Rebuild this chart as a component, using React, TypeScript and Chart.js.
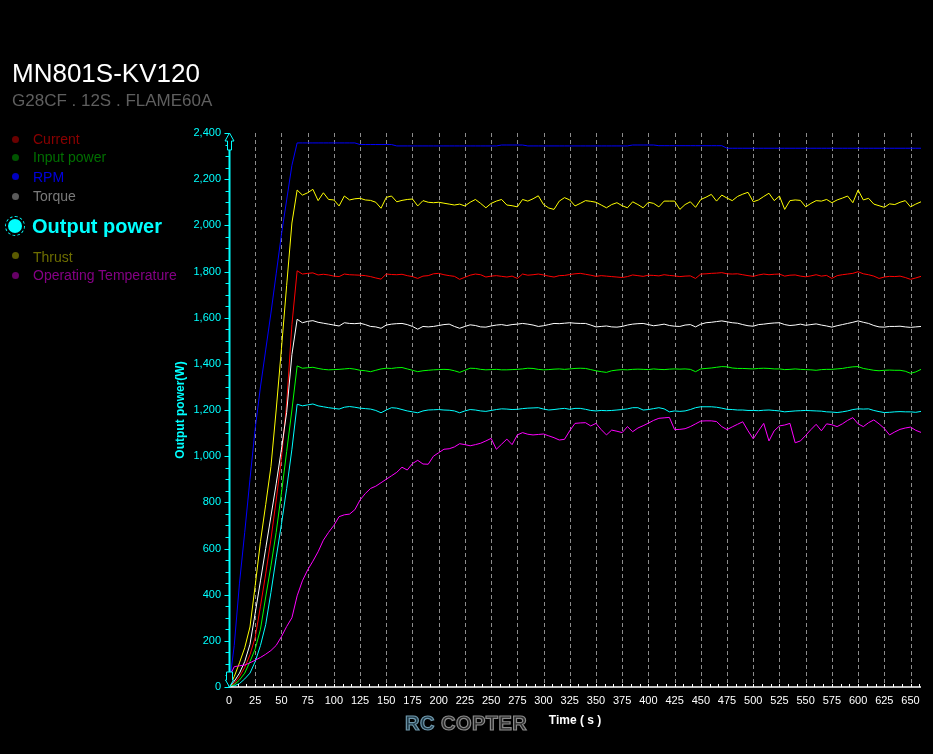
import React, { useEffect, useRef } from "react";
import { Chart, registerables } from "chart.js";

Chart.register(...registerables);

const TITLE = "MN801S-KV120";
const SUBTITLE = "G28CF . 12S . FLAME60A";
const X_TITLE = "Time ( s )";
const Y_TITLE = "Output power(W)";
const WATERMARK_A = "RC";
const WATERMARK_B = "COPTER";

const LEGEND_LABELS = [
  "Current",
  "Input power",
  "RPM",
  "Torque",
  "Output power",
  "Thrust",
  "Operating Temperature",
];

const TIMES = [
  0, 5, 10, 15, 20, 25, 30, 35, 40, 45, 50, 55, 60,
  65, 70, 75, 80, 85, 90, 95, 100, 105, 110,
  115, 120, 125, 130, 135, 140, 145, 150, 155, 160,
  165, 170, 175, 180, 185, 190, 195, 200, 205, 210,
  215, 220, 225, 230, 235, 240, 245, 250, 255, 260,
  265, 270, 275, 280, 285, 290, 295, 300, 305, 310,
  315, 320, 325, 330, 335, 340, 345, 350, 355, 360,
  365, 370, 375, 380, 385, 390, 395, 400, 405, 410,
  415, 420, 425, 430, 435, 440, 445, 450, 455, 460,
  465, 470, 475, 480, 485, 490, 495, 500, 505, 510,
  515, 520, 525, 530, 535, 540, 545, 550, 555, 560,
  565, 570, 575, 580, 585, 590, 595, 600, 605, 610,
  615, 620, 625, 630, 635, 640, 645, 650, 655, 660,
];

const X_TICKS = [0, 25, 50, 75, 100, 125, 150, 175, 200, 225, 250, 275, 300, 325, 350, 375, 400, 425, 450, 475, 500, 525, 550, 575, 600, 625, 650];
const Y_TICKS = [0, 200, 400, 600, 800, 1000, 1200, 1400, 1600, 1800, 2000, 2200, 2400];

const RPM = [
  0, 180, 450, 670, 900, 1120, 1300, 1460, 1620, 1790, 1960, 2110, 2260,
  2357, 2357, 2357, 2357, 2357, 2357, 2357, 2357, 2357, 2357,
  2357, 2357, 2350, 2350, 2350, 2350, 2350, 2350, 2350, 2344,
  2344, 2344, 2344, 2344, 2344, 2344, 2344, 2344, 2344, 2344,
  2344, 2344, 2344, 2344, 2344, 2344, 2344, 2344, 2344, 2348,
  2348, 2348, 2348, 2348, 2344, 2344, 2344, 2344, 2344, 2344,
  2344, 2344, 2344, 2344, 2344, 2344, 2344, 2344, 2344, 2344,
  2344, 2344, 2344, 2344, 2348, 2348, 2348, 2348, 2348, 2345,
  2345, 2345, 2345, 2345, 2345, 2345, 2345, 2345, 2345, 2345,
  2345, 2345, 2334, 2334, 2334, 2334, 2334, 2334, 2334, 2334,
  2334, 2334, 2334, 2334, 2334, 2334, 2334, 2334, 2334, 2334,
  2334, 2334, 2334, 2334, 2334, 2334, 2334, 2334, 2334, 2334,
  2334, 2334, 2334, 2334, 2334, 2334, 2334, 2334, 2334, 2334,
];

const THRUST = [
  0, 45, 105, 170, 260, 440, 630, 790, 955, 1200, 1465, 1740, 2010,
  2153, 2131, 2141, 2156, 2107, 2141, 2112, 2110, 2084, 2127,
  2110, 2115, 2117, 2110, 2108, 2100, 2074, 2121, 2127, 2102,
  2108, 2112, 2114, 2084, 2107, 2100, 2098, 2100, 2096, 2092,
  2088, 2092, 2084, 2100, 2112, 2095, 2076, 2095, 2105, 2112,
  2088, 2085, 2080, 2112, 2105, 2115, 2128, 2090, 2075, 2069,
  2105, 2120, 2110, 2084, 2095, 2107, 2104, 2100, 2088, 2076,
  2090, 2098, 2085, 2076, 2102, 2090, 2076, 2100, 2095, 2080,
  2105, 2105, 2105, 2069, 2090, 2102, 2078, 2112, 2122, 2134,
  2105, 2131, 2118, 2107, 2125, 2135, 2143, 2102, 2110, 2125,
  2139, 2107, 2127, 2069, 2107, 2110, 2108, 2080, 2095, 2107,
  2105, 2112, 2098, 2110, 2118, 2127, 2098, 2153, 2110, 2117,
  2092, 2085, 2078, 2093, 2090, 2100, 2107, 2080, 2092, 2102,
];

const CURRENT = [
  0, 15, 45, 85, 140, 215, 350, 490, 640, 810, 990, 1230, 1570,
  1803, 1789, 1792, 1794, 1785, 1788, 1785, 1780, 1778, 1789,
  1786, 1785, 1784, 1782, 1778, 1772, 1767, 1789, 1787, 1786,
  1788, 1782, 1778, 1770, 1780, 1782, 1790, 1792, 1786, 1782,
  1779, 1766, 1775, 1784, 1789, 1786, 1776, 1780, 1782, 1779,
  1776, 1780, 1770, 1789, 1784, 1786, 1789, 1785, 1780, 1776,
  1782, 1783, 1787, 1790, 1792, 1788, 1784, 1779, 1782, 1780,
  1778, 1776, 1774, 1778, 1785, 1782, 1779, 1784, 1783, 1781,
  1786, 1783, 1781, 1778, 1780, 1781, 1770, 1789, 1790, 1792,
  1793, 1795, 1790, 1789, 1790, 1786, 1782, 1779, 1785, 1789,
  1786, 1788, 1789, 1780, 1784, 1785, 1780, 1777, 1781, 1786,
  1780, 1783, 1770, 1782, 1786, 1789, 1792, 1799, 1790, 1786,
  1780, 1770, 1776, 1779, 1778, 1780, 1774, 1766, 1772, 1779,
];

const TORQUE = [
  0, 25, 60, 110, 185, 320, 460, 600, 740, 880, 1030, 1190, 1440,
  1593, 1578, 1584, 1587, 1580, 1576, 1572, 1568, 1564, 1578,
  1575, 1574, 1576, 1570, 1562, 1560, 1554, 1568, 1572, 1574,
  1575, 1570, 1562, 1550, 1562, 1560, 1562, 1566, 1570, 1572,
  1562, 1554, 1562, 1569, 1566, 1560, 1559, 1564, 1568, 1570,
  1566, 1570, 1572, 1575, 1572, 1568, 1562, 1565, 1570, 1575,
  1574, 1576, 1578, 1576, 1575, 1575, 1568, 1560, 1562, 1564,
  1560, 1559, 1562, 1568, 1572, 1574, 1575, 1570, 1565, 1568,
  1572, 1566, 1563, 1562, 1568, 1570, 1560, 1572, 1578, 1580,
  1583, 1586, 1582, 1578, 1576, 1570, 1565, 1563, 1570, 1572,
  1575, 1577, 1578, 1570, 1566, 1568, 1572, 1567, 1570, 1573,
  1568, 1564, 1559, 1565, 1570, 1575, 1580, 1586, 1580, 1575,
  1566, 1560, 1559, 1562, 1562, 1563, 1560, 1558, 1560, 1562,
];

const INPUT_POWER = [
  0, 10, 30, 60, 110, 165, 250, 390, 525, 670, 840, 1020, 1200,
  1391, 1381, 1383, 1385, 1380, 1376, 1374, 1375, 1376, 1378,
  1380, 1377, 1372, 1370, 1366, 1372, 1378, 1381, 1380, 1383,
  1384, 1378, 1372, 1366, 1370, 1372, 1374, 1375, 1376, 1375,
  1370, 1363, 1372, 1381, 1380, 1376, 1374, 1375, 1376, 1374,
  1374, 1375, 1376, 1378, 1381, 1380, 1376, 1374, 1375, 1377,
  1378, 1376, 1378, 1380, 1381, 1380, 1375, 1370, 1366, 1363,
  1370, 1373, 1375, 1374, 1376, 1377, 1376, 1375, 1378, 1376,
  1375, 1377, 1378, 1377, 1378, 1376, 1366, 1378, 1380, 1382,
  1385, 1388, 1387, 1382, 1380, 1380, 1379, 1378, 1380, 1381,
  1380, 1378, 1378, 1375, 1376, 1378, 1376, 1375, 1374, 1372,
  1375, 1376, 1376, 1378, 1380, 1384, 1387, 1388, 1380, 1376,
  1372, 1370, 1372, 1373, 1372, 1372, 1368, 1359, 1365, 1376,
];

const OUTPUT_POWER = [
  0, 5, 15, 35, 60, 110, 180, 270, 410, 560, 705, 860, 1030,
  1225, 1218, 1222, 1226, 1218, 1214, 1210, 1207, 1204, 1212,
  1215, 1212, 1208, 1206, 1204, 1198, 1188, 1200, 1210, 1208,
  1202, 1196, 1192, 1188, 1196, 1200, 1201, 1202, 1200, 1199,
  1196, 1188, 1196, 1202, 1200, 1196, 1194, 1198, 1202, 1205,
  1204, 1202, 1203, 1206, 1208, 1209, 1210, 1204, 1200, 1202,
  1205, 1207, 1203, 1207, 1207, 1203, 1198, 1196, 1198, 1197,
  1198, 1200, 1202, 1205, 1210, 1210, 1200, 1202, 1206, 1210,
  1205, 1192, 1196, 1194, 1196, 1202, 1210, 1214, 1214, 1214,
  1212, 1208, 1203, 1202, 1200, 1200, 1198, 1198, 1197, 1199,
  1200, 1198, 1196, 1192, 1194, 1196, 1197, 1198, 1197, 1196,
  1195, 1192, 1191, 1189, 1192, 1196, 1202, 1205, 1204, 1205,
  1198, 1193, 1189, 1190, 1192, 1193, 1192, 1192, 1190, 1194,
];

const TEMPERATURE = [
  40, 88, 92, 95, 105, 116, 128, 142, 158, 180, 218, 262, 300,
  395, 460, 507, 545, 586, 636, 670, 700, 738, 746,
  749, 768, 810, 838, 860, 870, 885, 900, 915, 930,
  952, 940, 968, 982, 966, 965, 1000, 1015, 1030, 1032,
  1040, 1054, 1050, 1045, 1050, 1056, 1066, 1077, 1030, 1052,
  1074, 1050, 1092, 1102, 1095, 1092, 1094, 1096, 1088, 1080,
  1070, 1073, 1110, 1142, 1144, 1145, 1131, 1142, 1115, 1092,
  1113, 1108, 1102, 1128, 1106, 1122, 1132, 1143, 1155, 1164,
  1166, 1168, 1115, 1116, 1119, 1128, 1140, 1152, 1153, 1153,
  1150, 1128, 1115, 1127, 1138, 1149, 1110, 1075, 1110, 1142,
  1066, 1110, 1131, 1135, 1142, 1058, 1066, 1090, 1115, 1138,
  1110, 1140, 1136, 1128, 1140, 1155, 1167, 1140, 1128, 1145,
  1157, 1140, 1120, 1092, 1105, 1116, 1122, 1126, 1112, 1103,
];

const X_MIN = 0;
const X_MAX = 660;
const Y_MIN = 0;
const Y_MAX = 2400;
const Y_MINOR_STEP = 50;
const X_MINOR_STEP = 25 / 3;

const FONT = "'Liberation Sans', Arial, sans-serif";

const pts = (vals: number[]) => TIMES.map((t, i) => ({ x: t, y: vals[i] }));

const decorPlugin = {
  id: "decor",
  beforeDatasetsDraw(chart: any) {
    const { ctx, chartArea, scales } = chart;
    const { top, bottom } = chartArea;
    const x = scales.x;
    ctx.save();
    ctx.strokeStyle = "#8c8c8c";
    ctx.lineWidth = 1;
    ctx.setLineDash([4, 3]);
    for (const v of X_TICKS) {
      if (v === 0) continue;
      const px = Math.round(x.getPixelForValue(v)) + 0.5;
      ctx.beginPath();
      ctx.moveTo(px, top);
      ctx.lineTo(px, bottom);
      ctx.stroke();
    }
    ctx.restore();
  },
  afterDatasetsDraw(chart: any) {
    const { ctx, chartArea, scales } = chart;
    const { left, right, top, bottom } = chartArea;
    const x = scales.x;
    const y = scales.y;
    ctx.save();
    ctx.setLineDash([]);
    // x axis line
    ctx.strokeStyle = "#ffffff";
    ctx.lineWidth = 1.5;
    ctx.beginPath();
    ctx.moveTo(left, bottom);
    ctx.lineTo(right, bottom);
    ctx.stroke();
    // x minor ticks
    ctx.lineWidth = 1;
    for (let v = X_MIN; v <= X_MAX + 0.01; v += X_MINOR_STEP) {
      const px = Math.round(x.getPixelForValue(v)) + 0.5;
      ctx.beginPath();
      ctx.moveTo(px, bottom - 3);
      ctx.lineTo(px, bottom);
      ctx.stroke();
    }
    // y axis line
    const ax = Math.round(left) + 0.5;
    ctx.strokeStyle = "#00ffff";
    ctx.lineWidth = 2;
    ctx.beginPath();
    ctx.moveTo(ax, top + 8);
    ctx.lineTo(ax, bottom);
    ctx.stroke();
    // y ticks
    ctx.lineWidth = 1;
    for (let v = Y_MIN; v <= Y_MAX; v += Y_MINOR_STEP) {
      const py = Math.round(y.getPixelForValue(v)) + 0.5;
      const major = v % 200 === 0;
      ctx.beginPath();
      ctx.moveTo(ax - (major ? 5 : 4), py);
      ctx.lineTo(ax, py);
      ctx.stroke();
    }
    // top arrow (hollow)
    const ty = y.getPixelForValue(Y_MAX);
    ctx.fillStyle = "#000000";
    ctx.beginPath();
    ctx.moveTo(ax, ty);
    ctx.lineTo(ax + 4.5, ty + 8);
    ctx.lineTo(ax + 2, ty + 8);
    ctx.lineTo(ax + 2, ty + 17);
    ctx.lineTo(ax - 2, ty + 17);
    ctx.lineTo(ax - 2, ty + 8);
    ctx.lineTo(ax - 4.5, ty + 8);
    ctx.closePath();
    ctx.fill();
    ctx.stroke();
    // bottom arrow (hollow)
    const by = y.getPixelForValue(Y_MIN);
    ctx.beginPath();
    ctx.moveTo(ax, by);
    ctx.lineTo(ax + 4, by - 7);
    ctx.lineTo(ax + 3, by - 7);
    ctx.lineTo(ax + 3, by - 15);
    ctx.lineTo(ax - 3, by - 15);
    ctx.lineTo(ax - 3, by - 7);
    ctx.lineTo(ax - 4, by - 7);
    ctx.closePath();
    ctx.fill();
    ctx.stroke();
    ctx.restore();
  },
};

export default function App() {
  const canvasRef = useRef<HTMLCanvasElement | null>(null);

  useEffect(() => {
    document.body.style.margin = "0";
    document.body.style.background = "#000";
    const canvas = canvasRef.current;
    if (!canvas) return;
    const mk = (label: string, vals: number[], color: string) => ({
      label,
      data: pts(vals),
      borderColor: color,
      backgroundColor: color,
      borderWidth: 1,
      pointRadius: 0,
      tension: 0,
      fill: false,
    });
    const chart = new Chart(canvas, {
      type: "line",
      data: {
        datasets: [
          mk(LEGEND_LABELS[6], TEMPERATURE, "#ff00ff"),
          mk(LEGEND_LABELS[4], OUTPUT_POWER, "#00ffff"),
          mk(LEGEND_LABELS[1], INPUT_POWER, "#00ff00"),
          mk(LEGEND_LABELS[3], TORQUE, "#ffffff"),
          mk(LEGEND_LABELS[0], CURRENT, "#ff0000"),
          mk(LEGEND_LABELS[5], THRUST, "#ffff00"),
          mk(LEGEND_LABELS[2], RPM, "#0000ff"),
        ],
      },
      options: {
        animation: false,
        responsive: false,
        events: [],
        layout: { padding: { left: 166, right: 12, top: 133, bottom: 0 } },
        plugins: {
          legend: { display: false },
          tooltip: { enabled: false },
          title: { display: false },
        },
        scales: {
          x: {
            type: "linear",
            min: X_MIN,
            max: X_MAX,
            afterBuildTicks: (s: any) => {
              s.ticks = X_TICKS.map((v) => ({ value: v }));
            },
            afterFit: (s: any) => {
              s.height = 67;
            },
            grid: { display: false, drawTicks: false, tickLength: 0 },
            border: { display: false },
            ticks: {
              color: "#ffffff",
              font: { family: FONT, size: 11 },
              padding: 7,
              maxRotation: 0,
              autoSkip: false,
              callback: (v: any) => String(v),
            },
            title: {
              display: true,
              text: X_TITLE,
              color: "#ffffff",
              font: { family: FONT, size: 12, weight: "bold" },
              padding: { top: 0, bottom: 26 },
            },
          },
          y: {
            type: "linear",
            min: Y_MIN,
            max: Y_MAX,
            afterBuildTicks: (s: any) => {
              s.ticks = Y_TICKS.map((v) => ({ value: v }));
            },
            afterFit: (s: any) => {
              s.width = 63;
            },
            grid: { display: false, drawTicks: false, tickLength: 0 },
            border: { display: false },
            ticks: {
              color: "#00ffff",
              font: { family: FONT, size: 11 },
              padding: 8,
              autoSkip: false,
              callback: (v: any) => Number(v).toLocaleString("en-US"),
            },
            title: {
              display: true,
              text: Y_TITLE,
              color: "#00ffff",
              font: { family: FONT, size: 12, weight: "bold" },
              padding: { top: 7, bottom: 0 },
            },
          },
        },
      },
      plugins: [decorPlugin],
    } as any);
    return () => chart.destroy();
  }, []);

  const legendStyle = [
    { color: "#8b0000", dot: "#6a0000", base: 143.5, cy: 139 },
    { color: "#006f00", dot: "#005400", base: 161.7, cy: 157.7 },
    { color: "#0000e0", dot: "#0000c0", base: 181.7, cy: 176.7 },
    { color: "#7a7a7a", dot: "#5a5a5a", base: 201.3, cy: 196.7 },
    { color: "#00ffff", dot: "#00ffff", base: 233.3, cy: 226, big: true },
    { color: "#6e6e00", dot: "#5a5a00", base: 262, cy: 255.7 },
    { color: "#850085", dot: "#660066", base: 280, cy: 275.7 },
  ];

  const abs = (o: any) => ({ position: "absolute" as const, whiteSpace: "nowrap" as const, lineHeight: 1, fontFamily: FONT, ...o });

  return (
    <div style={{ position: "absolute", left: 0, top: 0, width: 933, height: 754, background: "#000", overflow: "hidden" }}>
      <canvas ref={canvasRef} width={933} height={754} style={{ position: "absolute", left: 0, top: 0, width: 933, height: 754 }} />
      <div style={abs({ left: 12, top: 82.3 - 0.8465 * 26, fontSize: 26, color: "#ffffff" })}>{TITLE}</div>
      <div style={abs({ left: 12, top: 106 - 0.8465 * 17, fontSize: 17, color: "#5f5f5f" })}>{SUBTITLE}</div>
      {LEGEND_LABELS.map((label, i) => {
        const st = legendStyle[i];
        const size = st.big ? 20 : 14;
        const r = st.big ? 7 : 3.5;
        return (
          <React.Fragment key={label}>
            {st.big && (
              <div style={{ position: "absolute", left: 15 - 10, top: st.cy - 10, width: 18, height: 18, borderRadius: "50%", border: "1px dashed #00ffff" }} />
            )}
            <div style={{ position: "absolute", left: 15 - r, top: st.cy - r, width: 2 * r, height: 2 * r, borderRadius: "50%", background: st.dot }} />
            <div style={abs({ left: st.big ? 32 : 33, top: st.base - 0.8465 * size, fontSize: size, color: st.color, fontWeight: st.big ? "bold" : "normal" })}>{label}</div>
          </React.Fragment>
        );
      })}
      <div style={abs({ left: 405, top: 730 - 0.8465 * 20, fontSize: 20, fontWeight: 900, letterSpacing: 0.5 })}>
        <span style={{ color: "#203a48", WebkitTextStroke: "1.2px #6f98ac" }}>{WATERMARK_A}</span>
        <span> </span>
        <span style={{ color: "#2a2a2a", WebkitTextStroke: "1.2px #8a8a8a" }}>{WATERMARK_B}</span>
      </div>
    </div>
  );
}
